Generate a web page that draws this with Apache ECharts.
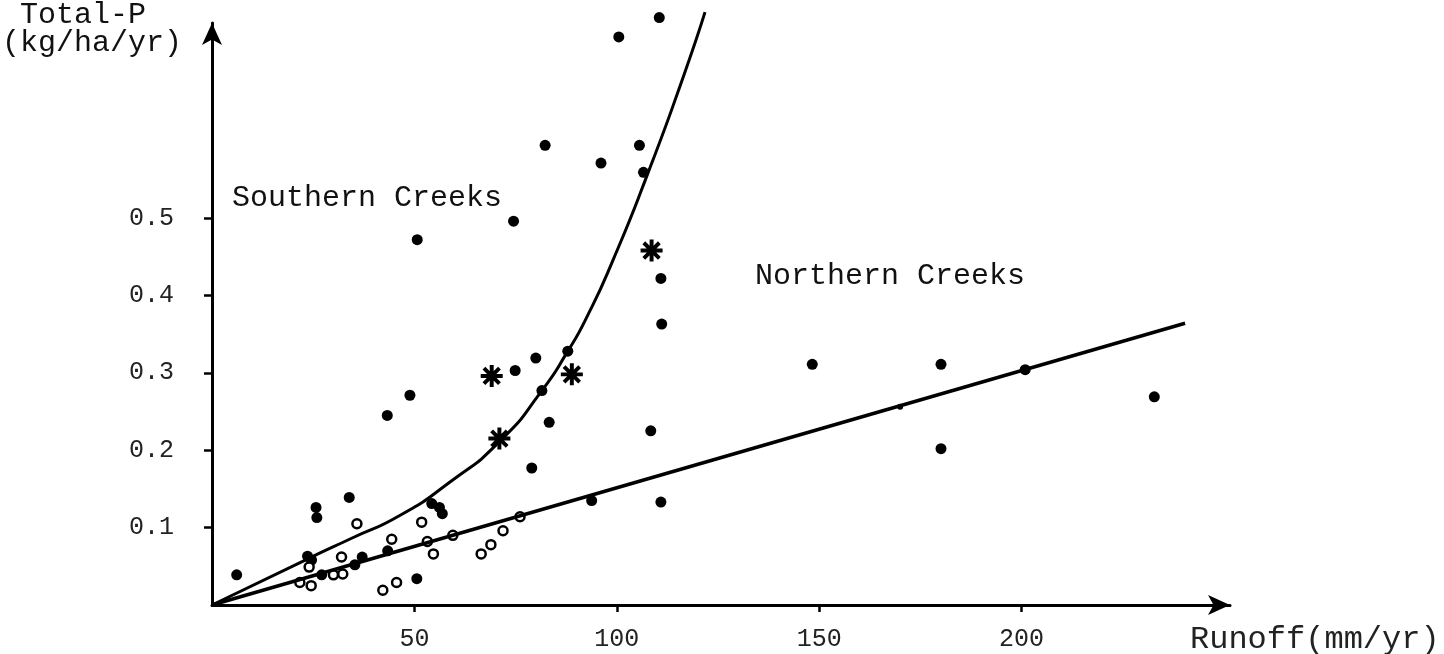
<!DOCTYPE html>
<html><head><meta charset="utf-8">
<script src="https://cdn.jsdelivr.net/npm/echarts@6/dist/echarts.min.js"></script>
<style>html,body{margin:0;background:#fff}#c{width:1444px;height:654px}</style>
</head><body><div id="c"></div>
<script>
// Runoff (mm/yr) and Total-P (kg/ha/yr)
const filledRunoff = [6.1,25.7,25.9,33.9,23.6,24.6,27.1,35.3,37.1,50.6,43.4,54.3,56.2,56.9,111.1,80.0,74.9,87.9,81.5,83.3,108.4,79.0,93.8,110.9,110.5,100.5,82.3,105.6,96.1,106.6,74.5,50.7,110.9,48.9,43.3,148.3,180.1,232.8,180.1,200.9];
const filledTotalP = [0.039,0.126,0.113,0.139,0.063,0.058,0.039,0.052,0.062,0.034,0.070,0.131,0.126,0.118,0.363,0.319,0.303,0.328,0.277,0.236,0.225,0.177,0.135,0.133,0.759,0.734,0.594,0.594,0.571,0.559,0.496,0.472,0.422,0.271,0.245,0.311,0.311,0.269,0.202,0.304];
const minorRunoff = [170.0];
const minorTotalP = [0.256];
const openRunoff = [35.8,24.0,21.7,24.5,30.0,32.3,32.0,42.2,45.6,44.4,51.8,53.2,54.7,59.5,66.5,68.9,71.9,76.1];
const openTotalP = [0.105,0.049,0.029,0.025,0.039,0.040,0.062,0.019,0.029,0.085,0.107,0.082,0.066,0.090,0.066,0.078,0.096,0.114];
const starRunoff = [69.1,88.9,71.0,108.6];
const starTotalP = [0.296,0.298,0.215,0.458];
// fitted curves
const southRunoff = [0,24.2,34.1,46.5,58.8,71.2,81.5,87.9,92.6,99.1,107.7,116.4,121.8];
const southTotalP = [0,0.061,0.0853,0.116,0.159,0.212,0.277,0.328,0.372,0.446,0.558,0.682,0.766];
const northRunoff = [0,240.4];
const northTotalP = [0,0.364];
const xTicks = [50,100,150,200];
const yTicks = [0.1,0.2,0.3,0.4,0.5];

const zip = (a,b) => a.map((v,i)=>[v,b[i]]);
// asterisk glyph: four crossing bars
function asteriskPath(L,W){
  let d='';
  for(let k=0;k<4;k++){
    const a=Math.PI*k/4, c=Math.cos(a), s=Math.sin(a);
    const pts=[[-L,-W],[L,-W],[L,W],[-L,W]].map(([x,y])=>[(x*c-y*s).toFixed(2),(x*s+y*c).toFixed(2)]);
    d+='M'+pts.map(p=>p.join(' ')).join('L')+'Z';
  }
  return 'path://'+d;
}

const FONT = "'Liberation Mono', 'DejaVu Sans Mono', monospace";
const chart = echarts.init(document.getElementById('c'));
chart.setOption({
  animation:false,
  backgroundColor:'#fff',
  grid:{left:212,top:23,right:214,bottom:49,containLabel:false},
  xAxis:{type:'value',min:0,max:251.5,interval:50,
    axisLine:{show:true,symbol:['none','arrow'],symbolSize:[15,22],lineStyle:{color:'#000',width:3}},
    axisTick:{show:true,length:7,lineStyle:{color:'#000',width:2.5},customValues:xTicks},
    axisLabel:{show:true,margin:22,fontFamily:FONT,fontSize:25,color:'#222',customValues:xTicks},
    splitLine:{show:false}},
  yAxis:{type:'value',min:0,max:0.752,interval:0.1,
    axisLine:{show:true,symbol:['none','arrow'],symbolSize:[15,22],lineStyle:{color:'#000',width:3}},
    axisTick:{show:true,length:8,lineStyle:{color:'#000',width:2.5},customValues:yTicks},
    axisLabel:{show:true,margin:38,fontFamily:FONT,fontSize:25,color:'#222',customValues:yTicks,formatter:v=>v.toFixed(1)},
    splitLine:{show:false}},
  graphic:[
    {type:'text',left:20,top:0,style:{text:'Total-P',font:'30px '+FONT,fill:'#111'}},
    {type:'text',left:2,top:28,style:{text:'(kg/ha/yr)',font:'30px '+FONT,fill:'#111'}},
    {type:'text',left:232,top:183,style:{text:'Southern Creeks',font:'30px '+FONT,fill:'#111'}},
    {type:'text',left:755,top:261,style:{text:'Northern Creeks',font:'30px '+FONT,fill:'#111'}},
    {type:'text',left:1190,top:624,style:{text:'Runoff(mm/yr)',font:'32px '+FONT,fill:'#222'}}
  ],
  series:[
    {type:'line',data:zip(southRunoff,southTotalP),smooth:0.6,showSymbol:false,clip:false,lineStyle:{color:'#000',width:3}},
    {type:'line',data:zip(northRunoff,northTotalP),showSymbol:false,clip:false,lineStyle:{color:'#000',width:3.5}},
    {type:'scatter',data:zip(filledRunoff,filledTotalP),symbol:'circle',symbolSize:11,clip:false,itemStyle:{color:'#000',opacity:1}},
    {type:'scatter',data:zip(minorRunoff,minorTotalP),symbol:'circle',symbolSize:6,clip:false,itemStyle:{color:'#000',opacity:1}},
    {type:'scatter',data:zip(openRunoff,openTotalP),symbol:'circle',symbolSize:9,clip:false,itemStyle:{color:'#fff',borderColor:'#000',borderWidth:2.5,opacity:1}},
    {type:'scatter',data:zip(starRunoff,starTotalP),symbol:asteriskPath(10,1.8),symbolSize:22,clip:false,itemStyle:{color:'#000',opacity:1}}
  ]
});
</script></body></html>
